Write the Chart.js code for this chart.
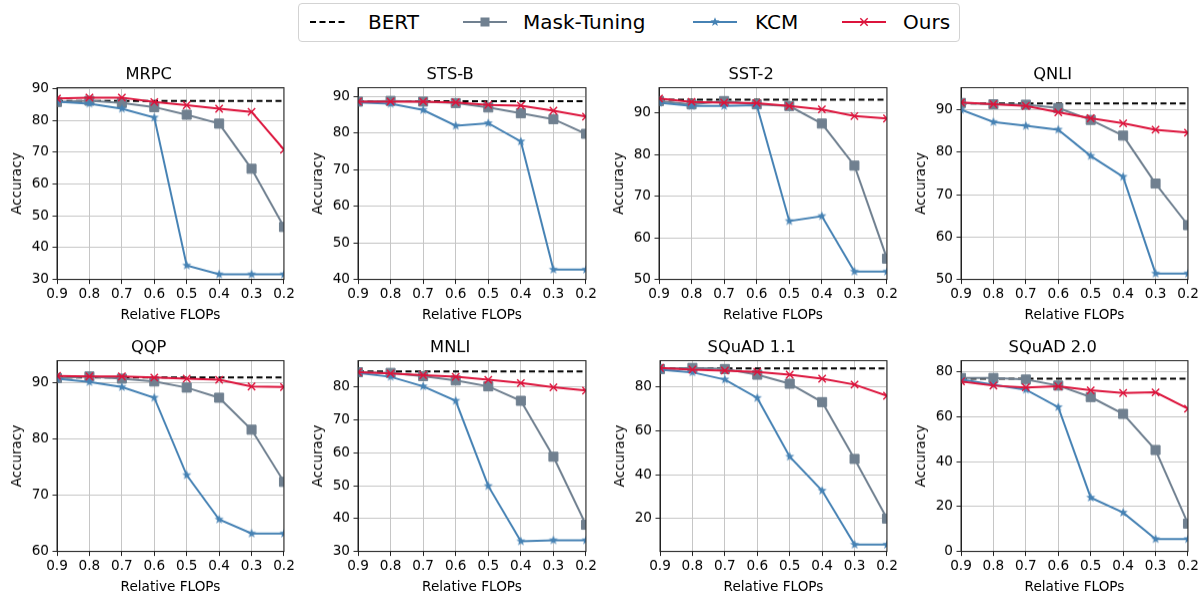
<!DOCTYPE html>
<html>
<head>
<meta charset="utf-8">
<script src="https://cdn.jsdelivr.net/npm/chart.js@4.4.0/dist/chart.umd.min.js"></script>
<style>
  body { margin: 0; width: 1203px; height: 594px; background: #fff; position: relative; overflow: hidden; font-family: "DejaVu Sans", sans-serif; }
  canvas.panel { position: absolute; }
  #legend { position: absolute; left: 298px; top: 3px; width: 660px; height: 37px; border: 1px solid #d3d3d3; border-radius: 4px; background: #fff; }
  #legend span { position: absolute; top: 6px; font-size: 20px; line-height: 24px; color: #000; white-space: nowrap; }
  #legend svg { position: absolute; top: 8px; }
</style>
</head>
<body>
<div id="legend"></div>
<script>
const flops = ["0.9", "0.8", "0.7", "0.6", "0.5", "0.4", "0.3", "0.2"];
const tasks = ["MRPC", "STS-B", "SST-2", "QNLI", "QQP", "MNLI", "SQuAD 1.1", "SQuAD 2.0"];

const bertAcc = [86.1, 88.7, 93.1, 91.5, 91.0, 84.7, 88.5, 77.0];

const maskTuning = [
  [85.8, 86.2, 85.5, 84.2, 81.8, 79.0, 64.8, 46.5],
  [88.6, 88.8, 88.6, 88.2, 87.0, 85.4, 83.8, 79.8],
  [92.8, 92.0, 92.8, 92.0, 91.6, 87.4, 77.3, 55.0],
  [91.6, 91.3, 91.2, 90.4, 87.6, 83.9, 72.6, 62.8],
  [90.9, 91.2, 90.8, 90.3, 89.2, 87.4, 81.7, 72.4],
  [84.5, 84.3, 83.3, 82.0, 80.2, 75.8, 58.8, 38.1],
  [88.2, 88.7, 88.2, 85.6, 81.5, 73.1, 47.2, 20.0],
  [77.3, 77.3, 76.6, 73.9, 68.8, 61.3, 45.2, 12.4]
];

const kcm = [
  [85.9, 85.3, 83.7, 80.9, 34.4, 31.6, 31.6, 31.6],
  [88.4, 88.0, 86.3, 82.0, 82.7, 77.7, 42.7, 42.7],
  [92.4, 91.6, 91.6, 91.8, 64.0, 65.2, 51.9, 51.9],
  [90.0, 87.1, 86.2, 85.3, 79.1, 74.2, 51.4, 51.4],
  [90.8, 90.2, 89.3, 87.4, 73.6, 65.7, 63.2, 63.2],
  [84.3, 83.1, 80.2, 75.8, 49.9, 33.1, 33.4, 33.4],
  [87.9, 86.7, 83.4, 75.0, 48.2, 32.7, 8.1, 8.1],
  [76.6, 74.3, 72.1, 64.3, 24.0, 17.3, 5.5, 5.5]
];

const ours = [
  [86.9, 87.2, 87.2, 85.8, 84.8, 83.7, 82.7, 70.8],
  [88.6, 88.6, 88.6, 88.4, 87.7, 87.5, 86.1, 84.5],
  [93.4, 92.6, 92.4, 92.3, 91.6, 90.8, 89.2, 88.6],
  [91.7, 91.3, 90.9, 89.4, 88.0, 86.8, 85.3, 84.6],
  [91.3, 91.2, 91.2, 91.0, 90.8, 90.6, 89.4, 89.3],
  [84.5, 84.1, 83.6, 83.1, 82.2, 81.2, 79.9, 78.9],
  [88.7, 87.9, 87.5, 86.9, 85.6, 83.8, 81.1, 76.0],
  [75.8, 73.9, 73.1, 73.6, 71.8, 70.6, 70.9, 63.6]
];

const yMin = [30, 40, 50, 50, 60, 30, 5, 0];
const yMax = [90.3, 92.4, 96, 95.2, 94, 88, 92, 85];
const yStep = [10, 10, 10, 10, 10, 10, 20, 20];

// plot area of each panel: left, top, width, height
const panels = [
  [57, 88, 227, 191], [358, 88, 228, 191], [659, 88, 228, 191], [961, 88, 227, 191],
  [57, 361, 227, 190], [358, 361, 228, 190], [660, 361, 227, 190], [961, 361, 227, 190]
];

const C_MASK = "#708090";
const C_KCM = "#4682b4";
const C_OURS = "#dc143c";
const GRID = "#c6c6c6";
const AXIS = "#222";

Chart.defaults.font.family = "DejaVu Sans";
Chart.defaults.color = "#000";

function starPoints(cx, cy, r) {
  const pts = [];
  for (let k = 0; k < 10; k++) {
    const rad = k % 2 === 0 ? r : r * 0.42;
    const a = -Math.PI / 2 + k * Math.PI / 5;
    pts.push([cx + rad * Math.cos(a), cy + rad * Math.sin(a)]);
  }
  return pts;
}

function starMarker(r, color) {
  const c = document.createElement("canvas");
  const s = Math.ceil(r * 2) + 2;
  c.width = c.height = s;
  const ctx = c.getContext("2d");
  ctx.fillStyle = color;
  ctx.beginPath();
  starPoints(s / 2, s / 2, r).forEach(p => ctx.lineTo(p[0], p[1]));
  ctx.closePath();
  ctx.fill();
  return c;
}
const kcmStar = starMarker(4.8, C_KCM);

// top and right spines
const frame = {
  id: "frame",
  afterDatasetsDraw(chart) {
    const { ctx, chartArea: a } = chart;
    ctx.save();
    ctx.strokeStyle = AXIS;
    ctx.lineWidth = 1;
    ctx.strokeRect(a.left, a.top, a.right - a.left, a.bottom - a.top);
    ctx.restore();
  }
};

function makeConfig(i) {
  return {
    type: "line",
    data: {
      labels: flops,
      datasets: [
        {
          label: "BERT",
          data: flops.map(() => bertAcc[i]),
          borderColor: "#000",
          borderDash: [6, 3.5],
          borderWidth: 2,
          pointRadius: 0,
          order: 3,
          clip: 0
        },
        {
          label: "Mask-Tuning",
          data: maskTuning[i],
          borderColor: C_MASK,
          borderWidth: 2,
          pointStyle: "rect",
          pointRadius: 6.4,
          pointBackgroundColor: C_MASK,
          pointBorderColor: C_MASK,
          pointBorderWidth: 1,
          order: 2,
          clip: 0
        },
        {
          label: "KCM",
          data: kcm[i],
          borderColor: C_KCM,
          borderWidth: 2,
          pointStyle: kcmStar,
          pointRadius: 5,
          order: 1,
          clip: 0
        },
        {
          label: "Ours",
          data: ours[i],
          borderColor: C_OURS,
          borderWidth: 2,
          pointStyle: "crossRot",
          pointRadius: 5.2,
          pointBorderColor: C_OURS,
          pointBackgroundColor: C_OURS,
          pointBorderWidth: 1.4,
          order: 0,
          clip: 0
        }
      ]
    },
    options: {
      responsive: false,
      maintainAspectRatio: false,
      animation: false,
      events: [],
      layout: { padding: 0 },
      elements: { line: { tension: 0 } },
      plugins: {
        legend: { display: false },
        tooltip: { enabled: false },
        title: {
          display: true,
          text: tasks[i],
          color: "#000",
          font: { size: 16.3, weight: 400 },
          padding: { top: 3, bottom: 3 }
        }
      },
      scales: {
        x: {
          type: "category",
          offset: false,
          grid: { color: GRID, tickColor: AXIS, tickLength: 4.5, offset: false },
          border: { color: AXIS, width: 1 },
          ticks: { color: "#000", font: { size: 13.6 }, padding: 2.5, maxRotation: 0, autoSkip: false },
          title: { display: true, text: "Relative FLOPs", color: "#000", font: { size: 13.6 }, padding: { top: 0, bottom: 2 } },
          afterFit: s => { s.height = 46; }
        },
        y: {
          min: yMin[i],
          max: yMax[i],
          grid: { color: GRID, tickColor: AXIS, tickLength: 4.5 },
          border: { color: AXIS, width: 1 },
          ticks: { stepSize: yStep[i], includeBounds: false, color: "#000", font: { size: 13.6 }, padding: 3.5 },
          title: { display: true, text: "Accuracy", color: "#000", font: { size: 13.6 }, padding: { top: 9, bottom: 0 } },
          afterFit: s => { s.width = 57; }
        }
      }
    },
    plugins: [frame]
  };
}

tasks.forEach((name, i) => {
  const cv = document.createElement("canvas");
  cv.className = "panel";
  cv.width = 300;
  cv.height = 270;
  document.body.appendChild(cv);
  const chart = new Chart(cv, makeConfig(i));
  const [l, t, w, h] = panels[i];
  const a = chart.chartArea;
  chart.resize(300 + w - (a.right - a.left), 270 + h - (a.bottom - a.top));
  cv.style.left = (l - chart.chartArea.left) + "px";
  cv.style.top = (t - chart.chartArea.top) + "px";
});

// shared legend
const legendItems = [
  { label: "BERT", icon: 11, text: 69, kind: "dash" },
  { label: "Mask-Tuning", icon: 164, text: 224, kind: "rect", color: C_MASK },
  { label: "KCM", icon: 394, text: 456, kind: "star", color: C_KCM },
  { label: "Ours", icon: 543, text: 604, kind: "x", color: C_OURS }
];
const legend = document.getElementById("legend");
legendItems.forEach(it => {
  const w = 44, h = 20, cx = w / 2, cy = h / 2;
  let svg = `<svg width="${w}" height="${h}" style="left:${it.icon}px">`;
  if (it.kind === "dash") {
    svg += `<line x1="0" y1="${cy}" x2="${w - 8}" y2="${cy}" stroke="#000" stroke-width="2" stroke-dasharray="6 3.5"/>`;
  } else {
    svg += `<line x1="0" y1="${cy}" x2="${w}" y2="${cy}" stroke="${it.color}" stroke-width="2"/>`;
    if (it.kind === "rect") {
      svg += `<rect x="${cx - 4.5}" y="${cy - 4.5}" width="9" height="9" fill="${it.color}"/>`;
    } else if (it.kind === "star") {
      const pts = starPoints(cx, cy, 4.8).map(p => p.join(",")).join(" ");
      svg += `<polygon points="${pts}" fill="${it.color}"/>`;
    } else {
      svg += `<path d="M${cx - 3.7} ${cy - 3.7}L${cx + 3.7} ${cy + 3.7}M${cx - 3.7} ${cy + 3.7}L${cx + 3.7} ${cy - 3.7}" stroke="${it.color}" stroke-width="1.4"/>`;
    }
  }
  svg += "</svg>";
  legend.insertAdjacentHTML("beforeend", svg + `<span style="left:${it.text}px">${it.label}</span>`);
});
</script>
</body>
</html>
